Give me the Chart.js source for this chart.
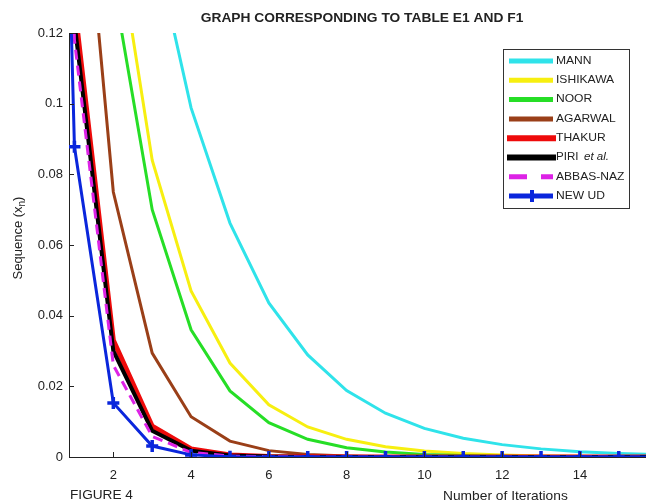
<!DOCTYPE html>
<html>
<head>
<meta charset="utf-8">
<script src="https://cdn.jsdelivr.net/npm/chart.js@4.4.1/dist/chart.umd.min.js"></script>
<style>
  html, body { margin: 0; padding: 0; background: #fff; }
  canvas { display: block; }
</style>
</head>
<body>
<canvas id="fig4" width="646" height="504"></canvas>
<script>
// iteration number n, starting guess at n = 0
var iterations = [0, 1, 2, 3, 4, 5, 6, 7, 8, 9, 10, 11, 12, 13, 14, 15, 16];

var mann     = [0.5, 0.338, 0.224, 0.148, 0.0988, 0.0662, 0.0436, 0.0289, 0.0188, 0.0124, 0.0081, 0.0053, 0.0035, 0.0023, 0.0015, 0.0010, 0.0007];
var ishikawa = [0.5, 0.28, 0.154, 0.084, 0.047, 0.0266, 0.0148, 0.0085, 0.0050, 0.0029, 0.0017, 0.0010, 0.0006, 0.0003, 0.0002, 0.0001, 0.0001];
var noor     = [0.5, 0.26, 0.134, 0.070, 0.036, 0.0187, 0.0097, 0.0050, 0.0026, 0.0014, 0.0007, 0.0004, 0.0002, 0.0001, 0.00005, 0.00003, 0.00001];
var agarwal  = [0.5, 0.195, 0.075, 0.0294, 0.0114, 0.0045, 0.0018, 0.0007, 0.0003, 0.0001, 0.00004, 0.00002, 0.00001, 0, 0, 0, 0];
var thakur   = [0.5, 0.128, 0.033, 0.0087, 0.0023, 0.0006, 0.00016, 0.00004, 0.00001, 0, 0, 0, 0, 0, 0, 0, 0];
var piri     = [0.5, 0.123, 0.030, 0.0074, 0.0018, 0.00045, 0.00011, 0.00003, 0.00001, 0, 0, 0, 0, 0, 0, 0, 0];
var abbasNaz = [0.5, 0.118, 0.026, 0.0058, 0.0013, 0.0003, 0.00007, 0.00002, 0, 0, 0, 0, 0, 0, 0, 0, 0];
var newUd    = [0.5, 0.0878, 0.0153, 0.0031, 0.0006, 0.0001, 0.00002, 0, 0, 0, 0, 0, 0, 0, 0, 0, 0];

var seriesNames = ['MANN', 'ISHIKAWA', 'NOOR', 'AGARWAL', 'THAKUR', 'PIRI', 'ABBAS-NAZ', 'NEW UD'];
var xTicks = [2, 4, 6, 8, 10, 12, 14];
var yTicks = [0, 0.02, 0.04, 0.06, 0.08, 0.1, 0.12];

function pts(vals) {
  return iterations.map(function (n, i) { return { x: n, y: vals[i] }; });
}

var styles = [
  { color: '#2fe3ea', width: 3 },
  { color: '#f7ef10', width: 3 },
  { color: '#26de26', width: 3 },
  { color: '#9a3f18', width: 3 },
  { color: '#ee0a0a', width: 5 },
  { color: '#000000', width: 4 },
  { color: '#dd22e6', width: 3, dash: [10, 6] },
  { color: '#0a26dc', width: 3, marker: true }
];
var allValues = [mann, ishikawa, noor, agarwal, thakur, piri, abbasNaz, newUd];

var datasets = allValues.map(function (vals, i) {
  var s = styles[i];
  return {
    label: seriesNames[i],
    data: pts(vals),
    borderColor: s.color,
    backgroundColor: s.color,
    borderWidth: s.width,
    borderDash: s.dash || [],
    pointStyle: 'cross',
    pointRadius: s.marker ? 6 : 0,
    pointBorderWidth: s.marker ? 3.5 : 0,
    pointBorderColor: s.color,
    tension: 0,
    order: seriesNames.length - 1 - i
  };
});

function drawText(ctx, text, x, y, font, align, sx) {
  ctx.save();
  ctx.font = font;
  ctx.textBaseline = 'middle';
  ctx.translate(x, y);
  ctx.scale(sx || 1, 1);
  ctx.textAlign = align || 'left';
  ctx.fillText(text, 0, 0);
  ctx.restore();
}

var decor = {
  id: 'decor',
  afterDraw: function (chart) {
    var ctx = chart.ctx, a = chart.chartArea;
    var xs = chart.scales.x, ys = chart.scales.y;
    ctx.save();
    ctx.strokeStyle = '#222';
    ctx.lineWidth = 1;
    // inward tick marks
    yTicks.forEach(function (v) {
      var y = Math.round(ys.getPixelForValue(v)) + 0.5;
      ctx.beginPath(); ctx.moveTo(a.left, y); ctx.lineTo(a.left + 5, y); ctx.stroke();
    });
    xTicks.forEach(function (v) {
      var x = Math.round(xs.getPixelForValue(v)) + 0.5;
      ctx.beginPath(); ctx.moveTo(x, a.bottom); ctx.lineTo(x, a.bottom - 5); ctx.stroke();
    });

    ctx.fillStyle = '#222';
    drawText(ctx, 'GRAPH CORRESPONDING TO TABLE E1 AND F1', 362, 18, 'bold 13px "Liberation Sans", Arial', 'center', 1.06);
    drawText(ctx, 'Number of Iterations', 443, 496, '13px "Liberation Sans", Arial', 'left', 1.06);
    drawText(ctx, 'FIGURE 4', 70, 495, '13px "Liberation Sans", Arial', 'left', 1.05);

    // y axis title with subscript
    ctx.save();
    ctx.translate(18, 238);
    ctx.rotate(-Math.PI / 2);
    ctx.textBaseline = 'middle';
    var t1 = 'Sequence (x', t3 = ')';
    ctx.font = '10px "Liberation Sans", Arial';
    var wSub = ctx.measureText('n').width;
    ctx.font = '13px "Liberation Sans", Arial';
    var w1 = ctx.measureText(t1).width, w3 = ctx.measureText(t3).width;
    var x0 = -(w1 + wSub + w3) / 2;
    ctx.textAlign = 'left';
    ctx.fillText(t1, x0, 0);
    ctx.font = '10px "Liberation Sans", Arial';
    ctx.fillText('n', x0 + w1, 4);
    ctx.font = '13px "Liberation Sans", Arial';
    ctx.fillText(t3, x0 + w1 + wSub, 0);
    ctx.restore();

    // legend
    var lx = 503, ly = 49, lw = 126, lh = 159;
    ctx.fillStyle = '#fff';
    ctx.fillRect(lx, ly, lw, lh);
    ctx.strokeStyle = '#333';
    ctx.strokeRect(lx + 0.5, ly + 0.5, lw, lh);
    var legFont = '10.5px "Liberation Sans", Arial';
    chart.data.datasets.forEach(function (ds, i) {
      var y = 61 + i * 19.3;
      var thick = ds.borderWidth > 3;
      ctx.save();
      ctx.strokeStyle = ds.borderColor;
      ctx.lineWidth = thick ? 6 : 5;
      if (i === 6) ctx.setLineDash([18, 14]);
      var x1 = thick ? 507 : 509, x2 = thick ? 556 : 553;
      ctx.beginPath(); ctx.moveTo(x1, y); ctx.lineTo(x2, y); ctx.stroke();
      if (ds.pointRadius > 0) {
        ctx.setLineDash([]);
        ctx.lineWidth = 4;
        ctx.beginPath();
        ctx.moveTo(532 - 6, y); ctx.lineTo(532 + 6, y);
        ctx.moveTo(532, y - 6); ctx.lineTo(532, y + 6);
        ctx.stroke();
      }
      ctx.restore();
      ctx.fillStyle = '#222';
      if (i === 5) {
        drawText(ctx, 'PIRI', 556, y, legFont, 'left', 1.1);
        drawText(ctx, 'et al.', 584, y, 'italic ' + legFont, 'left', 1.1);
      } else {
        drawText(ctx, ds.label, 556, y, legFont, 'left', 1.15);
      }
    });
    ctx.restore();
  }
};

new Chart(document.getElementById('fig4'), {
  type: 'line',
  data: { datasets: datasets },
  options: {
    responsive: false,
    animation: false,
    layout: { autoPadding: false, padding: { top: 33, left: 0, right: 0, bottom: 0 } },
    plugins: { legend: { display: false }, tooltip: { enabled: false } },
    scales: {
      x: {
        type: 'linear',
        min: 0.86,
        max: 15.7,
        grid: { display: false, drawTicks: false },
        border: { display: true, color: '#222', width: 1 },
        ticks: {
          stepSize: 2,
          includeBounds: false,
          padding: 11,
          color: '#222',
          font: { family: '"Liberation Sans", Arial', size: 13 },
          maxRotation: 0
        },
        afterFit: function (s) { s.height = 47; s.paddingRight = 0; s.paddingLeft = 0; }
      },
      y: {
        min: 0,
        max: 0.12,
        grid: { display: false, drawTicks: false },
        border: { display: true, color: '#222', width: 1 },
        ticks: {
          stepSize: 0.02,
          padding: 6,
          color: '#222',
          font: { family: '"Liberation Sans", Arial', size: 13 },
          callback: function (v) { return String(Math.round(v * 100) / 100); }
        },
        afterFit: function (s) { s.width = 69; s.paddingTop = 0; s.paddingBottom = 0; }
      }
    }
  },
  plugins: [decor]
});
</script>
</body>
</html>
